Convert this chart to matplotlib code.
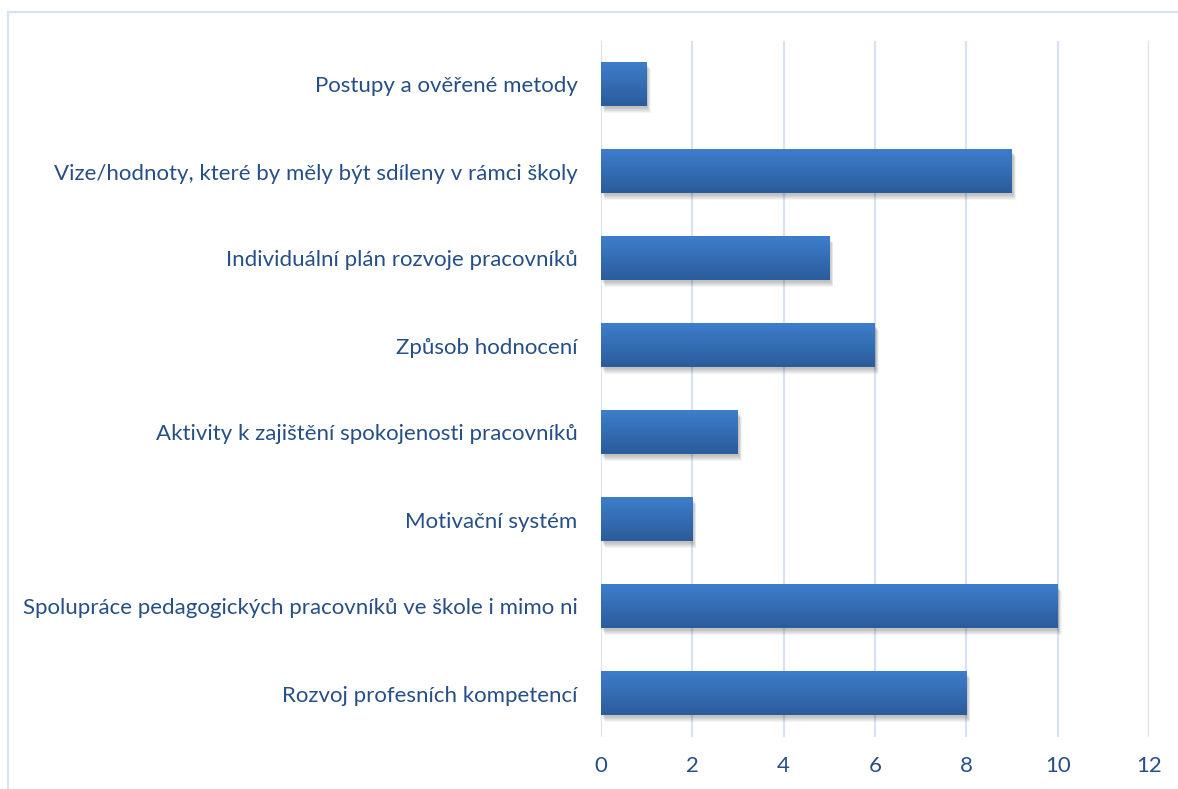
import numpy as np
import matplotlib

matplotlib.use("Agg")
import matplotlib.pyplot as plt
from matplotlib.lines import Line2D
from matplotlib.patches import Rectangle
from matplotlib import transforms

CATEGORIES = [
    "Postupy a ověřené metody",
    "Vize/hodnoty, které by měly být sdíleny v rámci školy",
    "Individuální plán rozvoje pracovníků",
    "Způsob hodnocení",
    "Aktivity k zajištění spokojenosti pracovníků",
    "Motivační systém",
    "Spolupráce pedagogických pracovníků ve škole i mimo ni",
    "Rozvoj profesních kompetencí",
]
COUNTS = [1, 9, 5, 6, 3, 2, 10, 8]
X_TICKS = [0, 2, 4, 6, 8, 10, 12]

TEXT = "#264f86"
GRID = "#d7e3f4"
BAR_TOP = "#3d7ecc"
BAR_BOTTOM = "#2b5c9b"
BAR_H = 0.5

plt.rcParams["font.family"] = ["Lato", "DejaVu Sans"]

W, H = 1178, 789
fig = plt.figure(figsize=(W / 100, H / 100), dpi=100, facecolor="white")
ax = fig.add_axes([601 / W, 1 - 737 / H, (1149 - 601) / W, (737 - 41) / H])

# outer chart frame (only left and top edges fall inside the image)
fig.add_artist(Line2D([8 / W, 8 / W], [0, 1 - 12 / H], transform=fig.transFigure,
                      color=GRID, lw=1.6))
fig.add_artist(Line2D([8 / W, 1], [1 - 12 / H, 1 - 12 / H], transform=fig.transFigure,
                      color=GRID, lw=1.6))

ax.set_xlim(0, 12)
ax.set_ylim(len(CATEGORIES) - 0.5, -0.5)
for s in ax.spines.values():
    s.set_visible(False)
ax.set_xticks(X_TICKS)
ax.grid(axis="x", color=GRID, lw=1.6)
ax.set_axisbelow(True)
ax.tick_params(length=0, labelsize=16, colors=TEXT)
ax.tick_params(axis="x", pad=14)
ax.tick_params(axis="y", pad=17)
ax.set_yticks(range(len(CATEGORIES)))
ax.set_yticklabels(CATEGORIES)

grad = np.linspace(0, 1, 64)[:, None]
c0 = np.array(matplotlib.colors.to_rgb(BAR_TOP))
c1 = np.array(matplotlib.colors.to_rgb(BAR_BOTTOM))
img = (c0[None, None, :] * (1 - grad[..., None]) + c1[None, None, :] * grad[..., None])

for i, v in enumerate(COUNTS):
    # soft drop shadow, built from a few faint offset layers
    for k in range(6):
        off = transforms.offset_copy(ax.transData, fig=fig, x=1 + 0.6 * k,
                                     y=-(2 + 0.9 * k), units="dots")
        ax.add_patch(Rectangle((0, i - BAR_H / 2), v, BAR_H, transform=off,
                               facecolor="black", alpha=0.045, lw=0, zorder=2))
    ax.imshow(img, extent=(0, v, i + BAR_H / 2, i - BAR_H / 2), aspect="auto",
              origin="upper", zorder=3, interpolation="bilinear")

ax.set_xlim(0, 12)
ax.set_ylim(len(CATEGORIES) - 0.5, -0.5)

fig.savefig("out.png", dpi=100, facecolor="white")
